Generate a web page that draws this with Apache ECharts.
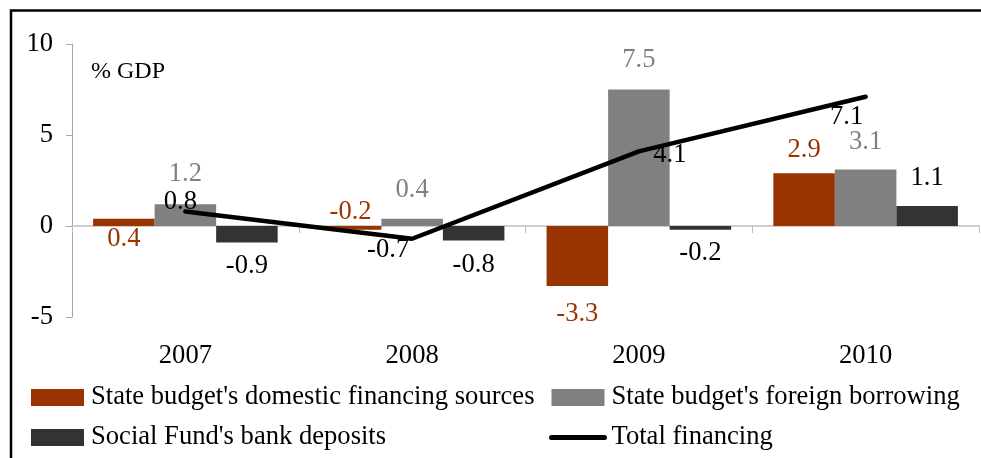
<!DOCTYPE html>
<html>
<head>
<meta charset="utf-8">
<script src="https://cdn.jsdelivr.net/npm/echarts@6/dist/echarts.min.js"></script>
<style>
  html, body { margin: 0; padding: 0; background: #fff; }
  #chart { width: 981px; height: 458px; }
</style>
</head>
<body>
<div id="chart"></div>
<script>
// values (% of GDP)
const years = ["2007", "2008", "2009", "2010"];
const domesticSources = [0.4, -0.2, -3.3, 2.9];
const foreignBorrowing = [1.2, 0.4, 7.5, 3.1];
const socialFundDeposits = [-0.9, -0.8, -0.2, 1.1];
const totalFinancing = [0.8, -0.7, 4.1, 7.1];
const yTicks = [-5, 0, 5, 10];

const seriesNames = [
  "State budget's domestic financing sources",
  "State budget's foreign borrowing",
  "Social Fund's bank deposits",
  "Total financing",
];

// where the data labels sit in the original (position, distance)
const domesticLabelPos = [["bottom", 0], ["top", 0], ["outside", 14], ["outside", 10]];
const foreignLabelPos = [["outside", 17], ["outside", 15], ["outside", 16], ["outside", 14]];
const depositsLabelPos = [["outside", 10], ["outside", 11], ["outside", 10], ["outside", 14]];
const totalLabelOffset = [[-5, -9], [-24, 11], [31, 4], [-19, 20]];

const FONT = "Liberation Serif";
const SIZE = 26.6;

const withLabels = (values, pos) =>
  values.map((v, i) => ({ value: v, label: { position: pos[i][0], distance: pos[i][1] } }));

const chart = echarts.init(document.getElementById("chart"));

const barLabel = (color) => ({
  show: true,
  color: color,
  fontSize: SIZE,
  fontFamily: FONT,
});

const legendBase = {
  orient: "vertical",
  top: 384,
  padding: 0,
  itemWidth: 53,
  itemHeight: 17,
  itemGap: 13,
  textStyle: { fontSize: SIZE, color: "#000", fontFamily: FONT, padding: [0, 0, 0, 2] },
};

const option = {
  animation: false,
  textStyle: { fontFamily: FONT },
  grid: { left: 72, right: 2, top: 44, bottom: 141, outerBoundsMode: "none" },
  xAxis: {
    type: "category",
    data: years,
    axisLine: { onZero: true, lineStyle: { color: "#bfbfbf", width: 1.5 } },
    axisTick: { show: true, length: 7, lineStyle: { color: "#bfbfbf" } },
    axisLabel: { margin: 26, fontSize: SIZE, color: "#000", fontFamily: FONT },
    splitLine: { show: false },
  },
  yAxis: {
    type: "value",
    min: yTicks[0],
    max: yTicks[yTicks.length - 1],
    interval: yTicks[1] - yTicks[0],
    axisLine: { show: true, lineStyle: { color: "#a6a6a6" } },
    axisTick: { show: true, length: 6, lineStyle: { color: "#a6a6a6" } },
    axisLabel: { margin: 19, fontSize: SIZE, color: "#000", fontFamily: FONT },
    splitLine: { show: false },
  },
  legend: [
    Object.assign({}, legendBase, {
      left: 31,
      data: [
        { name: seriesNames[0], icon: "rect" },
        { name: seriesNames[2], icon: "rect" },
      ],
    }),
    Object.assign({}, legendBase, {
      left: 549,
      data: [
        { name: seriesNames[1], icon: "rect" },
        {
          name: seriesNames[3],
          itemStyle: { opacity: 0 },
          lineStyle: { width: 5, cap: "round", color: "#000" },
        },
      ],
    }),
  ],
  graphic: [
    {
      type: "rect",
      silent: true,
      shape: { x: 11, y: 10.5, width: 1000, height: 500 },
      style: { fill: "none", stroke: "#000", lineWidth: 2.5 },
    },
    {
      type: "text",
      x: 91,
      y: 72,
      style: {
        text: "% GDP",
        font: '24px "Liberation Serif"',
        fill: "#000",
        verticalAlign: "middle",
      },
    },
  ],
  series: [
    {
      name: seriesNames[0],
      type: "bar",
      barGap: "0%",
      barCategoryGap: "18.6%",
      itemStyle: { color: "#993300" },
      label: barLabel("#993300"),
      data: withLabels(domesticSources, domesticLabelPos),
    },
    {
      name: seriesNames[1],
      type: "bar",
      barGap: "0%",
      barCategoryGap: "18.6%",
      itemStyle: { color: "#808080" },
      label: barLabel("#808080"),
      data: withLabels(foreignBorrowing, foreignLabelPos),
    },
    {
      name: seriesNames[2],
      type: "bar",
      barGap: "0%",
      barCategoryGap: "18.6%",
      itemStyle: { color: "#333333" },
      label: barLabel("#000"),
      data: withLabels(socialFundDeposits, depositsLabelPos),
    },
    {
      name: seriesNames[3],
      type: "line",
      symbol: "circle",
      symbolSize: 2,
      itemStyle: { color: "#000" },
      lineStyle: { color: "#000", width: 4.5, cap: "round" },
      label: { show: true, color: "#000", fontSize: SIZE, fontFamily: FONT },
      data: totalFinancing.map((v, i) => ({
        value: v,
        label: { position: "inside", offset: totalLabelOffset[i] },
      })),
      z: 5,
    },
  ],
};

chart.setOption(option);
</script>
</body>
</html>
